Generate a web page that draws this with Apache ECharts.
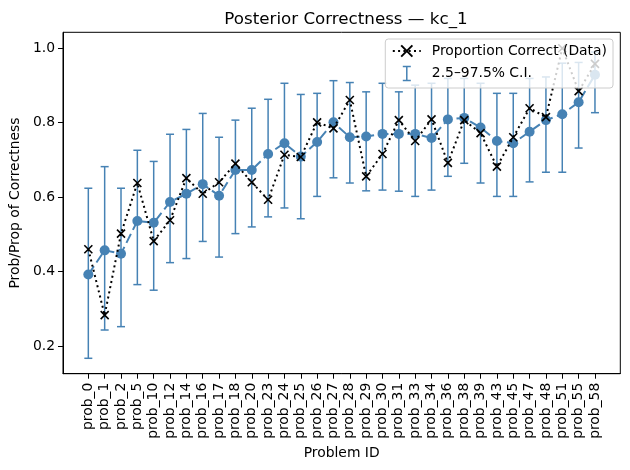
<!DOCTYPE html>
<html>
<head>
<meta charset="utf-8">
<script src="https://cdn.jsdelivr.net/npm/echarts@6/dist/echarts.min.js"></script>
<style>
  html, body { margin: 0; padding: 0; background: #fff; }
  #chart { width: 630px; height: 470px; }
</style>
</head>
<body>
<div id="chart"></div>
<script>
const categories = ['prob_0', 'prob_1', 'prob_2', 'prob_5', 'prob_10', 'prob_12', 'prob_14', 'prob_16',
  'prob_17', 'prob_18', 'prob_20', 'prob_23', 'prob_24', 'prob_25', 'prob_26', 'prob_27', 'prob_28',
  'prob_29', 'prob_30', 'prob_31', 'prob_33', 'prob_34', 'prob_36', 'prob_38', 'prob_39', 'prob_43',
  'prob_45', 'prob_47', 'prob_48', 'prob_51', 'prob_55', 'prob_58']

const posteriorMean = [0.392, 0.457, 0.448, 0.536, 0.531, 0.587, 0.609, 0.635, 0.604, 0.673, 0.673,
  0.716, 0.745, 0.709, 0.748, 0.801, 0.761, 0.763, 0.770, 0.770, 0.770, 0.759, 0.809, 0.813, 0.787,
  0.751, 0.745, 0.776, 0.807, 0.823, 0.855, 0.929]

const observed = [0.460, 0.283, 0.502, 0.638, 0.482, 0.538, 0.651, 0.609, 0.640, 0.690, 0.640, 0.593,
  0.714, 0.708, 0.801, 0.785, 0.861, 0.656, 0.716, 0.807, 0.751, 0.809, 0.692, 0.807, 0.772, 0.682,
  0.761, 0.839, 0.815, 1.0, 0.885, 0.958]

const ciLower = [0.167, 0.243, 0.252, 0.365, 0.350, 0.424, 0.435, 0.481, 0.439, 0.502, 0.520, 0.547,
  0.571, 0.542, 0.602, 0.652, 0.638, 0.617, 0.619, 0.616, 0.602, 0.619, 0.656, 0.691, 0.638, 0.602,
  0.602, 0.641, 0.667, 0.667, 0.732, 0.827]

const ciUpper = [0.624, 0.682, 0.624, 0.726, 0.696, 0.769, 0.782, 0.825, 0.761, 0.807, 0.839, 0.863,
  0.906, 0.876, 0.879, 0.913, 0.908, 0.883, 0.906, 0.883, 0.901, 0.906, 0.919, 0.919, 0.906, 0.879,
  0.879, 0.919, 0.923, 0.960, 0.962, 0.990]

const yTicks = [0.2, 0.4, 0.6, 0.8, 1.0]

const steel = '#4682b4'
const font = 'DejaVu Sans'
const xIdx = categories.map((_, i) => i)
const pad = (categories.length - 1) * 0.05

const chart = echarts.init(document.getElementById('chart'))

// error bar: vertical line plus two caps
function renderErrorBar(params, api) {
  const i = api.value(0)
  const lo = api.coord([i, api.value(1)])
  const hi = api.coord([i, api.value(2)])
  const cap = 4
  const style = { stroke: steel, lineWidth: 1.5 }
  return {
    type: 'group',
    children: [
      { type: 'line', shape: { x1: lo[0], y1: lo[1], x2: hi[0], y2: hi[1] }, style },
      { type: 'line', shape: { x1: lo[0] - cap, y1: lo[1], x2: lo[0] + cap, y2: lo[1] }, style },
      { type: 'line', shape: { x1: hi[0] - cap, y1: hi[1], x2: hi[0] + cap, y2: hi[1] }, style }
    ]
  }
}

chart.setOption({
  animation: false,
  textStyle: { fontFamily: font },
  title: {
    text: 'Posterior Correctness — kc_1',
    left: 341,
    textAlign: 'center',
    top: 6,
    textStyle: { fontFamily: font, fontSize: 16.7, fontWeight: 'normal', color: '#000' }
  },
  legend: {
    orient: 'vertical',
    right: 17,
    top: 39,
    padding: [5, 6, 5, 5],
    itemGap: 6,
    itemWidth: 28,
    itemHeight: 14,
    backgroundColor: 'rgba(255,255,255,0.8)',
    borderColor: '#cccccc',
    borderWidth: 1,
    borderRadius: 3,
    textStyle: { fontFamily: font, fontSize: 13.9, color: '#000', padding: [0, 0, 0, 6] },
    data: [
      { name: 'Proportion Correct (Data)' },
      {
        name: '2.5–97.5% C.I.',
        icon: 'path://M0,0M28,14M10,0H18M14,0V14M10,14H18',
        itemStyle: { color: 'none', borderColor: steel, borderWidth: 1.5 }
      }
    ]
  },
  grid: {
    left: 61.3,
    top: 32.3,
    right: 9.7,
    bottom: 96.3,
    show: true,
    borderColor: '#000',
    borderWidth: 1
  },
  xAxis: {
    type: 'value',
    min: -pad,
    max: categories.length - 1 + pad,
    name: 'Problem ID',
    nameLocation: 'middle',
    nameGap: 72,
    nameTextStyle: { fontFamily: font, fontSize: 13.9, color: '#000' },
    axisLine: { onZero: false, lineStyle: { color: '#000', width: 1 } },
    axisTick: { show: true, length: 5, lineStyle: { color: '#000' }, customValues: xIdx },
    axisLabel: {
      customValues: xIdx,
      rotate: 90,
      margin: 9,
      fontFamily: font,
      fontSize: 13.9,
      color: '#000',
      formatter: (v) => categories[Math.round(v)]
    },
    splitLine: { show: false }
  },
  yAxis: {
    type: 'value',
    min: 0.1256,
    max: 1.043,
    name: 'Prob/Prop of Correctness',
    nameLocation: 'middle',
    nameGap: 38,
    nameTextStyle: { fontFamily: font, fontSize: 13.9, color: '#000' },
    axisLine: { show: true, onZero: false, lineStyle: { color: '#000', width: 1 } },
    axisTick: { show: true, length: 5, lineStyle: { color: '#000' }, customValues: yTicks },
    axisLabel: {
      customValues: yTicks,
      margin: 8,
      fontFamily: font,
      fontSize: 13.9,
      color: '#000',
      formatter: (v) => v.toFixed(1)
    },
    splitLine: { show: false }
  },
  series: [
    {
      name: '2.5–97.5% C.I.',
      type: 'custom',
      renderItem: renderErrorBar,
      itemStyle: { color: steel },
      data: xIdx.map((i) => [i, ciLower[i], ciUpper[i]]),
      z: 1
    },
    {
      name: 'Posterior Mean',
      type: 'line',
      data: xIdx.map((i) => [i, posteriorMean[i]]),
      symbol: 'circle',
      symbolSize: 10,
      itemStyle: { color: steel },
      lineStyle: { color: steel, width: 2, type: [10, 4.5] },
      z: 2
    },
    {
      name: 'Proportion Correct (Data)',
      type: 'line',
      data: xIdx.map((i) => [i, observed[i]]),
      symbol: 'path://M0,0L10,10M0,10L10,0',
      symbolSize: 8,
      itemStyle: { color: '#000', borderColor: '#000', borderWidth: 1.6 },
      lineStyle: { color: '#000', width: 2, type: [2, 3.3] },
      z: 3
    }
  ]
})
</script>
</body>
</html>
